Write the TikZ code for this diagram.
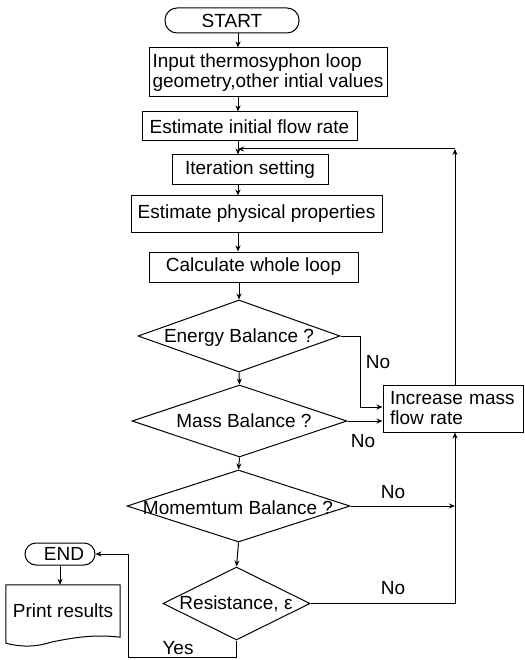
\documentclass[tikz,border=0pt]{standalone}
\usepackage{fontspec}
\setmainfont{Liberation Sans}
\usetikzlibrary{shapes.geometric,arrows.meta,calc}
\begin{document}
\begin{tikzpicture}[x=1pt,y=-1pt,
  font=\fontsize{19}{20}\selectfont,
  box/.style={draw,line width=1pt,inner sep=0pt},
  dia/.style={draw,shape=diamond,line width=1pt,inner sep=0pt},
  txt/.style={inner sep=0pt},
  arr/.style={line width=1pt,-{Stealth[length=6pt,width=5pt]}},
  ln/.style={line width=1pt}]
\useasboundingbox (0,0) rectangle (524,660);
\coordinate (ax) at (238,0);
\coordinate (rx) at (455,0);
% process boxes
\node[box,minimum width=134,minimum height=25,rounded corners=12] (start) at (232,20.5) {START};
\node[box,minimum width=238,minimum height=49,align=left] (input) at (268,72.5) {Input thermosyphon loop\\geometry,other intial values};
\node[box,minimum width=215,minimum height=29] (est) at (249.5,126.5) {Estimate initial flow rate};
\node[box,minimum width=156,minimum height=30] (iter) at (250,170) {Iteration setting};
\node[box,minimum width=251,minimum height=36] (phys) at (256.5,214) {Estimate physical properties};
\node[box,minimum width=209,minimum height=30] (calc) at (253.5,267) {Calculate whole loop};
% decisions
\node[dia,minimum width=202,minimum height=72] (energy) at (239,336) {};
\node[txt] (energyt) at (239,338) {Energy Balance ?};
\node[dia,minimum width=215,minimum height=72] (mass) at (239.5,421) {};
\node[txt] (masst) at (244,421) {Mass Balance ?};
\node[dia,minimum width=223,minimum height=72] (mom) at (238.5,506) {};
\node[txt] (momt) at (238,508) {Momemtum Balance ?};
\node[dia,minimum width=147,minimum height=73] (res) at (236.5,603.5) {};
\node[txt] (rest) at (236,604) {Resistance, ε};
% side boxes
\node[box,minimum width=140,minimum height=47,text width=126,align=left] (inc) at (453,408.5) {Increase mass\\flow rate};
\node[box,minimum width=70,minimum height=22,rounded corners=11] (end) at (60,554) {\hspace*{8pt}END};
\node[txt,minimum width=114,minimum height=52] (print) at (63,611) {\raisebox{-4pt}{Print results}};
\draw[ln] ($(print.south west)+(0,6)$) -- (print.north west) -- (print.north east) -- (print.south east)
  .. controls ($(print.south east)+(-25,-3)$) and ($(print.south east)+(-45,0)$) .. ($(print.south west)+(45,5)$)
  .. controls ($(print.south west)+(30,10)$) and ($(print.south west)+(15,10)$) .. ($(print.south west)+(0,6)$);
% main flow
\draw[arr] (start.south -| ax) -- (input.north -| ax);
\draw[arr] (input.south -| ax) -- (est.north -| ax);
\draw[arr] (est.south -| ax) -- (iter.north -| ax);
\draw[arr] (iter.south -| ax) -- (phys.north -| ax);
\draw[arr] (phys.south -| ax) -- (calc.north -| ax);
\draw[arr] (calc.south -| energy.north) -- (energy.north);
\draw[arr] (energy.south) -- (mass.north);
\draw[arr] (mass.south) -- (mom.north);
\draw[arr] (mom.south) -- (res.north);
% feedback
\coordinate (fb) at (455,149);
\coordinate (fbj) at (238,149);
\draw[arr] (inc.north -| fb) -- (fb);
\draw[arr] (fb) -- (fbj);
\coordinate (e1) at (360,407);
\draw[arr] (energy.east) -| (e1) -- (e1 -| inc.west);
\draw[arr] (mass.east) -- (mass.east -| inc.west);
\draw[arr] (mom.east) -- (mom.east -| rx);
\draw[arr] (res.east) -- (res.east -| rx) -- (inc.south -| rx);
\coordinate (yb) at (128,657);
\draw[arr] (res.south) -- (res.south |- yb) -- (yb) |- (end.east);
\draw[arr] (end.south) -- (print.north -| end.south);
% labels
\node[txt] (no1) at (378,362) {No};
\node[txt] (no2) at (363,441) {No};
\node[txt] (no3) at (393,492) {No};
\node[txt] (no4) at (393,588) {No};
\node[txt] (yes) at (178,648) {Yes};
\end{tikzpicture}
\end{document}
